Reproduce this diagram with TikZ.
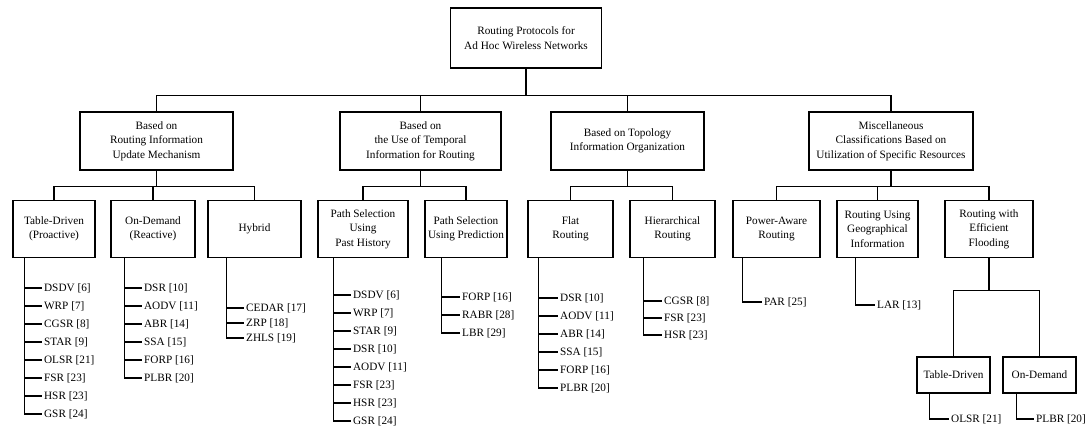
\documentclass[tikz,border=0pt]{standalone}
\usepackage{fontspec}
\setmainfont{Liberation Serif}
\usetikzlibrary{positioning}

\begin{document}
\begin{tikzpicture}[
  x=0.8pt, y=-0.8pt,
  node distance=14.4pt,
  box/.style={draw,line width=1.1pt,align=center,inner sep=2pt,
    font=\fontsize{9}{11.5}\selectfont},
  leaf/.style={anchor=west,inner sep=1.5pt,font=\fontsize{9}{11}\selectfont},
  nextleaf/.style={below=of #1.west,anchor=west},
  line/.style={line width=0.9pt}
]
\useasboundingbox (0,0) rectangle (1090,430);

% root and first level
\node[box,minimum width=120.8pt,minimum height=48pt] (root) at (526,38) {Routing Protocols for\\Ad Hoc Wireless Networks};
\node[box,minimum width=122.4pt,minimum height=46.4pt] (upd) at (156.5,141) {Based on\\Routing Information\\Update Mechanism};
\node[box,minimum width=128.8pt,minimum height=46.4pt] (tmp) at (420.5,141) {Based on\\the Use of Temporal\\Information for Routing};
\node[box,minimum width=122.4pt,minimum height=46.4pt] (topo) at (627.5,141) {Based on Topology\\Information Organization};
\node[box,minimum width=131.2pt,minimum height=46.4pt] (misc) at (891,141) {Miscellaneous\\Classifications Based on\\Utilization of Specific Resources};
\draw[line] (root.south) -- ++(0,27) -| (upd.north);
\draw[line] (root.south) -- ++(0,27) -| (tmp.north);
\draw[line] (root.south) -- ++(0,27) -| (topo.north);
\draw[line] (root.south) -- ++(0,27) -| (misc.north);

% second level
\node[box,minimum width=65.6pt,minimum height=45.6pt] (tabd) at (54,229) {Table-Driven\\(Proactive)};
\node[box,minimum width=67.2pt,minimum height=45.6pt] (ondm) at (153,229) {On-Demand\\(Reactive)};
\node[box,minimum width=74.4pt,minimum height=45.6pt] (hybr) at (254.5,229) {Hybrid};
\node[box,minimum width=72pt,minimum height=45.6pt] (past) at (363,229) {Path Selection\\Using\\Past History};
\node[box,minimum width=65.6pt,minimum height=45.6pt] (pred) at (466,229) {Path Selection\\Using Prediction};
\node[box,minimum width=68pt,minimum height=45.6pt] (flat) at (570.5,229) {Flat\\Routing};
\node[box,minimum width=68pt,minimum height=45.6pt] (hier) at (672.5,229) {Hierarchical\\Routing};
\node[box,minimum width=69.6pt,minimum height=45.6pt] (powr) at (776.5,229) {Power-Aware\\Routing};
\node[box,minimum width=64.8pt,minimum height=45.6pt] (geog) at (877.5,229) {Routing Using\\Geographical\\Information};
\node[box,minimum width=70.4pt,minimum height=45.6pt] (flood) at (989,229) {Routing with\\Efficient\\Flooding};
\draw[line] (upd.south) -- ++(0,16) -| (tabd.north);
\draw[line] (upd.south) -- ++(0,16) -| (ondm.north);
\draw[line] (upd.south) -- ++(0,16) -| (hybr.north);
\draw[line] (tmp.south) -- ++(0,16) -| (past.north);
\draw[line] (tmp.south) -- ++(0,16) -| (pred.north);
\draw[line] (topo.south) -- ++(0,16) -| (flat.north);
\draw[line] (topo.south) -- ++(0,16) -| (hier.north);
\draw[line] (misc.south) -- ++(0,16) -| (powr.north);
\draw[line] (misc.south) -- ++(0,16) -| (geog.north);
\draw[line] (misc.south) -- ++(0,16) -| (flood.north);

% flooding subclasses
\node[box,minimum width=58.4pt,minimum height=28.8pt] (floodtd) at (953.5,375) {Table-Driven};
\node[box,minimum width=58.4pt,minimum height=28.8pt] (floodod) at (1039.5,375) {On-Demand};
\draw[line] (flood.south) -- ++(0,32) -| (floodtd.north);
\draw[line] (flood.south) -- ++(0,32) -| (floodod.north);

% spines
\coordinate (tabdS) at ([xshift=9.6pt]tabd.south west);
\coordinate (ondmS) at ([xshift=11.2pt]ondm.south west);
\coordinate (hybrS) at ([xshift=15.2pt]hybr.south west);
\coordinate (pastS) at ([xshift=12.8pt]past.south west);
\coordinate (predS) at ([xshift=13.6pt]pred.south west);
\coordinate (flatS) at ([xshift=8.8pt]flat.south west);
\coordinate (hierS) at ([xshift=11.2pt]hier.south west);
\coordinate (powrS) at ([xshift=8pt]powr.south west);
\coordinate (geogS) at ([xshift=15.2pt]geog.south west);
\coordinate (floodtdS) at ([xshift=10.4pt]floodtd.south west);
\coordinate (floododS) at ([xshift=11.2pt]floodod.south west);

% protocols
\node[leaf] (tabd1) at (42,288) {DSDV [6]};
\node[leaf,nextleaf=tabd1] (tabd2) {WRP [7]};
\node[leaf,nextleaf=tabd2] (tabd3) {CGSR [8]};
\node[leaf,nextleaf=tabd3] (tabd4) {STAR [9]};
\node[leaf,nextleaf=tabd4] (tabd5) {OLSR [21]};
\node[leaf,nextleaf=tabd5] (tabd6) {FSR [23]};
\node[leaf,nextleaf=tabd6] (tabd7) {HSR [23]};
\node[leaf,nextleaf=tabd7] (tabd8) {GSR [24]};

\node[leaf] (ondm1) at (142,288) {DSR [10]};
\node[leaf,nextleaf=ondm1] (ondm2) {AODV [11]};
\node[leaf,nextleaf=ondm2] (ondm3) {ABR [14]};
\node[leaf,nextleaf=ondm3] (ondm4) {SSA [15]};
\node[leaf,nextleaf=ondm4] (ondm5) {FORP [16]};
\node[leaf,nextleaf=ondm5] (ondm6) {PLBR [20]};

\node[leaf] (hybr1) at (244,308) {CEDAR [17]};
\node[leaf,below=12pt of hybr1.west,anchor=west] (hybr2) {ZRP [18]};
\node[leaf,below=12pt of hybr2.west,anchor=west] (hybr3) {ZHLS [19]};

\node[leaf] (past1) at (351,295) {DSDV [6]};
\node[leaf,nextleaf=past1] (past2) {WRP [7]};
\node[leaf,nextleaf=past2] (past3) {STAR [9]};
\node[leaf,nextleaf=past3] (past4) {DSR [10]};
\node[leaf,nextleaf=past4] (past5) {AODV [11]};
\node[leaf,nextleaf=past5] (past6) {FSR [23]};
\node[leaf,nextleaf=past6] (past7) {HSR [23]};
\node[leaf,nextleaf=past7] (past8) {GSR [24]};

\node[leaf] (pred1) at (460,297) {FORP [16]};
\node[leaf,nextleaf=pred1] (pred2) {RABR [28]};
\node[leaf,nextleaf=pred2] (pred3) {LBR [29]};

\node[leaf] (flat1) at (558,298) {DSR [10]};
\node[leaf,nextleaf=flat1] (flat2) {AODV [11]};
\node[leaf,nextleaf=flat2] (flat3) {ABR [14]};
\node[leaf,nextleaf=flat3] (flat4) {SSA [15]};
\node[leaf,nextleaf=flat4] (flat5) {FORP [16]};
\node[leaf,nextleaf=flat5] (flat6) {PLBR [20]};

\node[leaf] (hier1) at (662,301) {CGSR [8]};
\node[leaf,below=13.6pt of hier1.west,anchor=west] (hier2) {FSR [23]};
\node[leaf,below=13.6pt of hier2.west,anchor=west] (hier3) {HSR [23]};

\node[leaf] (powr1) at (762,302) {PAR [25]};
\node[leaf] (geog1) at (875,305) {LAR [13]};
\node[leaf] (floodtd1) at (949,419) {OLSR [21]};
\node[leaf] (floodod1) at (1034,419) {PLBR [20]};

\draw[line] (tabdS) |- (tabd1.west) (tabdS) |- (tabd2.west) (tabdS) |- (tabd3.west) (tabdS) |- (tabd4.west)
  (tabdS) |- (tabd5.west) (tabdS) |- (tabd6.west) (tabdS) |- (tabd7.west) (tabdS) |- (tabd8.west);
\draw[line] (ondmS) |- (ondm1.west) (ondmS) |- (ondm2.west) (ondmS) |- (ondm3.west)
  (ondmS) |- (ondm4.west) (ondmS) |- (ondm5.west) (ondmS) |- (ondm6.west);
\draw[line] (hybrS) |- (hybr1.west) (hybrS) |- (hybr2.west) (hybrS) |- (hybr3.west);
\draw[line] (pastS) |- (past1.west) (pastS) |- (past2.west) (pastS) |- (past3.west) (pastS) |- (past4.west)
  (pastS) |- (past5.west) (pastS) |- (past6.west) (pastS) |- (past7.west) (pastS) |- (past8.west);
\draw[line] (predS) |- (pred1.west) (predS) |- (pred2.west) (predS) |- (pred3.west);
\draw[line] (flatS) |- (flat1.west) (flatS) |- (flat2.west) (flatS) |- (flat3.west)
  (flatS) |- (flat4.west) (flatS) |- (flat5.west) (flatS) |- (flat6.west);
\draw[line] (hierS) |- (hier1.west) (hierS) |- (hier2.west) (hierS) |- (hier3.west);
\draw[line] (powrS) |- (powr1.west);
\draw[line] (geogS) |- (geog1.west);
\draw[line] (floodtdS) |- (floodtd1.west);
\draw[line] (floododS) |- (floodod1.west);
\end{tikzpicture}
\end{document}
